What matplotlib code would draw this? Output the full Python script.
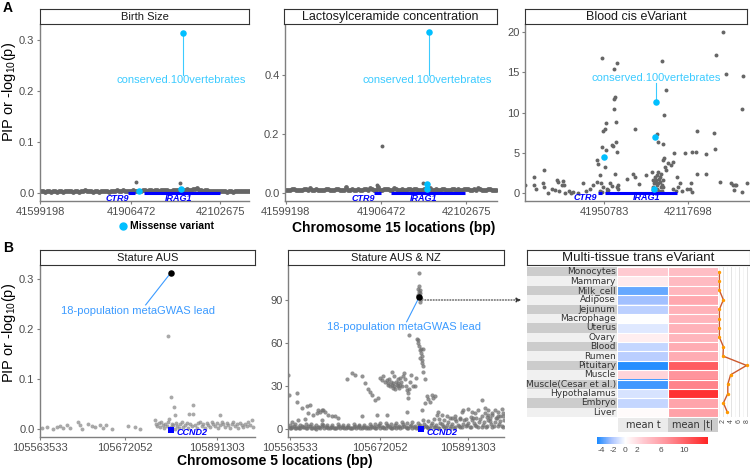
import matplotlib
matplotlib.use('Agg')
import matplotlib.pyplot as plt
import numpy as np
from matplotlib.colors import LinearSegmentedColormap
from matplotlib.patches import Rectangle

plt.rcParams['font.family'] = ['Liberation Sans', 'DejaVu Sans']
plt.rcParams['mathtext.fontset'] = 'custom'
plt.rcParams['mathtext.rm'] = 'Liberation Sans'
plt.rcParams['mathtext.it'] = 'Liberation Sans:italic'
plt.rcParams['axes.unicode_minus'] = False

# ---------------- DATA ----------------
# x values are variant positions along each locus plot (index units), y = PIP or -log10(p)
a_ticks_pos_1 = [120, 393, 660]
a_ticks_pos_2 = [107, 393, 648]
a_ticks_pos_3 = [313, 563]
a_tick_labels_12 = ['41599198', '41906472', '42102675']
a_tick_labels_3 = ['41950783', '42117698']
b_ticks_pos_1 = [120, 375, 650]
b_ticks_pos_2 = [105, 375, 640]
b_tick_labels = ['105563533', '105672052', '105891303']

# Birth Size
birth_band = [(122,0.003),(134,0.002),(146,0.004),(158,0.003),(170,0.002),(182,0.003),(194,0.004),(206,0.003),
              (218,0.002),(230,0.003),(242,0.004),(254,0.005),(266,0.003),(278,0.002),(290,0.003),(302,0.004),
              (314,0.003),(326,0.002),(338,0.003),(350,0.005),(362,0.004),(374,0.003),(386,0.004),(398,0.006),
              (410,0.003),(422,0.004),(434,0.005),(446,0.006),(458,0.004),(470,0.005),(482,0.006),(494,0.005),
              (506,0.004),(518,0.006),(530,0.005),(542,0.007),(554,0.006),(566,0.005),(578,0.008),(590,0.009),
              (602,0.006),(614,0.005),(626,0.004),(638,0.003),(650,0.004),(662,0.003),(674,0.004),(686,0.003),
              (698,0.002),(710,0.003),(722,0.004),(734,0.003),(746,0.004)]
birth_band2 = [(128,0.004),(140,0.003),(152,0.002),(164,0.004),(176,0.003),(188,0.002),(200,0.003),(212,0.004),
               (224,0.003),(236,0.002),(248,0.003),(260,0.004),(272,0.003),(284,0.004),(296,0.002),(308,0.003),
               (320,0.004),(332,0.003),(344,0.004),(356,0.003),(368,0.005),(380,0.004),(392,0.003),(404,0.004),
               (416,0.003),(428,0.005),(440,0.004),(452,0.005),(464,0.006),(476,0.004),(488,0.005),(500,0.006),
               (512,0.004),(524,0.005),(536,0.006),(548,0.005),(560,0.007),(572,0.006),(584,0.007),(596,0.006),
               (608,0.004),(620,0.005),(632,0.004),(644,0.003),(656,0.004),(668,0.003),(680,0.002),(692,0.004),
               (704,0.003),(716,0.004),(728,0.003),(740,0.004)]
birth_out = [(407,0.022),(540,0.019)]
birth_miss = [(418,0.004),(543,0.007),(548,0.314)]

# Lactosylceramide concentration
lacto_band = [(108,0.012),(120,0.010),(132,0.014),(144,0.011),(156,0.009),(168,0.013),(180,0.016),(192,0.012),
              (204,0.010),(216,0.011),(228,0.015),(240,0.012),(252,0.010),(264,0.013),(276,0.011),(288,0.020),
              (300,0.012),(312,0.010),(324,0.014),(336,0.012),(348,0.015),(360,0.018),(372,0.012),(384,0.022),
              (396,0.011),(408,0.013),(420,0.010),(432,0.016),(444,0.012),(456,0.014),(468,0.011),(480,0.013),
              (492,0.015),(504,0.012),(516,0.010),(528,0.013),(540,0.016),(552,0.012),(564,0.011),(576,0.014),
              (588,0.012),(600,0.010),(612,0.015),(624,0.013),(636,0.012),(648,0.014),(660,0.011),(672,0.013),
              (684,0.016),(696,0.012),(708,0.010),(720,0.013),(732,0.011)]
lacto_band2 = [(114,0.010),(126,0.013),(138,0.009),(150,0.012),(162,0.014),(174,0.010),(186,0.012),(198,0.015),
               (210,0.011),(222,0.009),(234,0.013),(246,0.011),(258,0.014),(270,0.010),(282,0.012),(294,0.011),
               (306,0.015),(318,0.012),(330,0.010),(342,0.013),(354,0.011),(366,0.014),(378,0.012),(390,0.010),
               (402,0.013),(414,0.015),(426,0.011),(438,0.013),(450,0.010),(462,0.012),(474,0.015),(486,0.011),
               (498,0.013),(510,0.010),(522,0.014),(534,0.012),(546,0.011),(558,0.014),(570,0.010),(582,0.013),
               (594,0.011),(606,0.014),(618,0.012),(630,0.010),(642,0.013),(654,0.015),(666,0.012),(678,0.010),
               (690,0.013),(702,0.011),(714,0.014),(726,0.012),(738,0.010)]
lacto_out = [(395,0.159),(520,0.034),(380,0.028)]
lacto_miss = [(530,0.015),(530,0.030),(537,0.547)]

# Blood cis eVariant
blood_pts = [(75,1.0),(103,2.0),(103,1.0),(108,0.5),(133,2.8),(128,1.2),(131,0.7),(145,0.0),(155,0.5),(165,0.4),
             (170,1.6),(175,1.4),(178,0.2),(185,1.0),(190,1.5),(192,1.0),(195,0.0),(207,0.2),(213,0.0),(218,0.1),
             (235,0.0),(250,1.2),(258,0.2),(270,0.5),(280,1.0),(290,1.4),(292,4.1),(295,3.6),(300,2.2),(302,1.2),
             (305,16.8),(305,5.7),(308,7.7),(315,8.0),(318,8.7),(315,3.2),(318,5.3),(320,0.5),(330,1.2),(335,0.9),
             (337,6.0),(340,5.8),(342,15.4),(345,11.9),(342,11.7),(343,10.5),(347,8.8),(350,16.1),(348,6.3),
             (350,5.1),(345,2.4),(350,0.7),(355,1.0),(355,0.5),(380,1.8),(398,2.4),(405,7.9),(405,2.0),(418,1.1),
             (437,2.2),(455,2.6),(460,1.6),(472,7.3),(475,6.4),(485,16.4),(490,6.1),(497,12.8),(492,9.7),(490,4.1),
             (493,4.3),(495,3.2),(498,2.8),(505,3.7),(512,3.5),(518,3.8),(521,5.0),(530,2.0),(540,1.2),(555,5.0),
             (572,1.3),(576,5.1),(588,5.1),(590,7.7),(590,2.4),(570,0.5),(575,0.1),(618,4.9),(618,2.4),(643,7.4),
             (645,5.5),(647,17.2),(660,1.4),(670,20.0),(678,14.8),(693,1.2),(700,1.0),(705,1.0),(708,1.0),(702,0.4),
             (725,10.5),(730,14.6),(727,0.1),(740,1.2),(460,0.7),(462,1.2),(465,1.4),(468,1.6),(470,0.95),(472,0.5),
             (475,1.2),(478,1.8),(480,1.4),(482,0.7),(485,1.0),(470,2.2),(475,2.6),(483,2.4),(488,1.6),(490,0.7),
             (300,0.3),(305,0.1),(310,0.7),(320,0.1),(325,0.4),(520,0.5),(527,0.3),(535,0.7),(545,0.3),(560,0.5),
             (466,0.2),(478,0.3),(486,0.2),(458,0.4),(480,2.0),(466,2.0)]
blood_miss = [(312,4.5),(466,7.0),(467,11.3),(463,0.5)]

# Stature AUS
aus_pts = [(505,0.186),(514,0.064),(522,0.044),(580,0.048),(525,0.028),(568,0.030),(660,0.029),
           (125,0.003),(140,0.005),(160,0.001),(170,0.005),(180,0.006),(188,0.003),(200,0.008),(210,0.003),
           (235,0.015),(240,0.008),(245,0.001),(265,0.011),(275,0.006),(285,0.005),(300,0.008),(310,0.003),
           (318,0.008),(335,0.000),(385,0.007),(405,0.005),(420,0.001),
           (465,0.018),(468,0.010),(472,0.006),(476,0.013),(480,0.005),(484,0.015),(488,0.008),(492,0.003),
           (496,0.011),(500,0.006),(504,0.015),(508,0.021),(512,0.005),(516,0.011),(520,0.008),(524,0.001),
           (528,0.013),(532,0.006),(536,0.003),(540,0.010),(545,0.015),(550,0.005),(555,0.008),(560,0.013),
           (565,0.003),(570,0.011),(575,0.006),(580,0.031),(585,0.008),(590,0.003),(595,0.013),(600,0.015),
           (605,0.006),(610,0.010),(615,0.003),(620,0.013),(625,0.008),(630,0.005),(635,0.015),(640,0.010),
           (645,0.006),(650,0.013),(655,0.003),(660,0.008),(665,0.015),(670,0.010),(675,0.005),(680,0.013),
           (685,0.008),(690,0.003),(695,0.011),(700,0.015),(705,0.006),(710,0.010),(715,0.003),(720,0.013),
           (725,0.008),(730,0.005),(735,0.011),(740,0.006),(745,0.015),(750,0.008),(755,0.018),(758,0.005)]
aus_lead = (512, 0.313)

# Stature AUS & NZ
nz_pts = [(493,109),(490,98),(492,96),(495,95),(489,93),(497,91),(488,94),(494,89),(491,100),(496,97),
          (462,66),(487,63),(490,62),(492,58),(495,55),(498,53),(500,51),(502,48),(497,56),(505,56),(490,60),
          (494,50),(500,46),(505,44),(510,35),(503,40),
          (375,36),(380,34),(385,37),(390,33),(395,34),(398,31),(400,32),(403,35),(405,30),(408,33),(410,31),
          (413,29),(415,32),(418,30),(420,28),(423,33),(425,31),(428,30),(430,32),(433,29),(435,31),(438,33),
          (440,30),(443,37),(446,39),(449,35),(452,30),(455,27),(458,25),(460,22),(462,28),(465,33),(468,38),
          (475,30),(480,30),(483,36),(412,40),(418,37),(428,35),(436,36),
          (275,35),(290,39),(300,38),(320,37),(330,32),(340,28),(345,26),(350,24),(360,20),(368,22),(395,10),(455,12),
          (100,38),(103,24),(125,25),(125,19),(140,15),(155,16),(165,17),(160,11),(175,10),(185,11),(190,13),
          (195,12),(200,13),(205,13),(210,12),(220,10),(230,9),(240,9),(250,8),(320,9),(365,10),(110,5),(130,6),
          (150,7),(200,6),
          (515,23),(520,21),(525,19),(530,24),(535,22),(540,23),(510,18),(500,13),(545,10),(550,12),(560,10),
          (575,9),(590,8),(600,9),(620,12),(625,13),(640,14),(650,12),(660,11),(670,13),(680,20),(690,11),
          (700,10),(710,11),(720,13),(730,12),(740,14),(745,11),(735,9),(655,8),(615,7),(705,8),(725,8),(700,13),(690,15),
          (100,1.2),(108,0.6),(116,2.0),(124,1.0),(132,0.5),(140,1.8),(148,1.1),(156,0.7),(164,2.2),(172,1.0),
          (180,0.6),(188,1.5),(196,0.9),(204,2.5),(212,1.2),(220,0.7),(228,1.6),(236,1.0),(244,0.5),(252,2.0),
          (260,1.1),(268,0.8),(276,1.7),(284,1.0),(292,0.6),(300,2.1),(308,1.2),(316,0.7),(324,1.5),(332,1.0),
          (340,0.6),(348,2.4),(356,1.3),(364,0.8),(372,2.6),(380,1.1),(388,0.7),(396,3.0),(404,1.4),(412,0.8),
          (420,2.7),(428,1.2),(436,0.6),(444,3.2),(452,1.5),(460,0.8),(468,2.9),(476,1.3),(484,0.7),(492,2.2),
          (500,1.0),(508,3.5),(516,1.4),(524,0.8),(532,4.0),(540,1.6),(548,0.9),(556,4.5),(564,1.8),(572,1.0),
          (580,5.0),(588,2.0),(596,1.0),(604,5.5),(612,2.2),(620,1.2),(628,6.0),(636,2.5),(644,1.3),(652,6.5),
          (660,2.8),(668,1.5),(676,7.0),(684,3.0),(692,1.6),(700,6.5),(708,3.2),(716,1.8),(724,7.5),(732,3.5),
          (740,2.0),(746,6.0),
          (104,3.0),(120,3.5),(136,2.8),(152,3.3),(168,3.6),(184,2.9),(200,3.4),(216,3.1),(232,2.7),(248,3.5),
          (264,3.0),(280,2.8),(296,3.3),(312,3.0),(328,2.6),(344,3.8),(360,3.2),(376,4.0),(392,4.5),(408,3.8),
          (424,4.2),(440,5.0),(456,4.4),(472,5.2),(488,4.0),(504,6.0),(520,5.5),(536,6.8),(552,7.0),(568,6.2),
          (584,7.5),(600,6.8),(616,8.0),(632,7.2),(648,8.5),(664,7.8),(680,9.0),(696,8.4),(712,9.5),(728,8.8),(744,9.2)]
nz_band = [(104,0.5),(112,1.4),(120,0.8),(128,1.6),(136,0.4),(144,1.2),(152,0.9),(160,1.8),(168,0.6),(176,1.5),
           (184,0.3),(192,1.1),(200,1.9),(208,0.7),(216,1.4),(224,0.5),(232,1.7),(240,0.9),(248,1.3),(256,0.4),
           (264,1.6),(272,0.8),(280,1.2),(288,0.5),(296,1.5),(304,0.9),(312,1.8),(320,0.4),(328,1.2),(336,1.6),
           (344,0.7),(352,1.4),(360,0.5),(368,1.9),(376,0.8),(384,1.6),(392,0.6),(400,2.0),(408,1.0),(416,1.7),
           (424,0.5),(432,2.2),(440,1.1),(448,1.8),(456,0.6),(464,2.4),(472,1.0),(480,1.9),(488,0.7),(496,2.6),
           (504,1.2),(512,2.2),(520,0.8),(528,3.0),(536,1.3),(544,2.5),(552,0.9),(560,3.2),(568,1.5),(576,2.8),
           (584,1.0),(592,3.6),(600,1.6),(608,3.0),(616,1.1),(624,3.8),(632,1.8),(640,4.2),(648,1.2),(656,4.5),
           (664,2.0),(672,4.8),(680,1.4),(688,5.0),(696,2.2),(704,5.5),(712,1.5),(720,5.2),(728,2.4),(736,5.8),(744,1.6)]
nz_lead = (492, 92)

# Multi-tissue trans eVariant
tissues = ['Monocytes', 'Mammary', 'Milk_cell', 'Adipose', 'Jejunum', 'Macrophage', 'Uterus', 'Ovary',
           'Blood', 'Rumen', 'Pituitary', 'Muscle', 'Muscle(Cesar et al.)', 'Hypothalamus', 'Embryo', 'Liver']
mean_t = [3.0, 1.2, -3.5, -2.5, -1.8, 0.0, -0.9, 1.0, -1.6, -1.9, -4.6, 2.4, -4.2, -1.1, -1.6, 0.2]
mean_abs_t = [4.0, 4.2, 4.5, 5.5, 4.8, 4.6, 4.8, 4.6, 5.2, 5.2, 10.5, 7.0, 8.0, 13.2, 5.8, 6.0]
trans_line = [1.1, 1.1, 1.1, 2.1, 1.1, 1.1, 1.1, 1.1, 2.1, 2.0, 7.9, 3.9, 3.2, 3.2, 2.1, 3.1]
heat_cols = ['mean t', 'mean |t|']
cbar_ticks = [-4, -2, 0, 2, 6, 10]

# ---------------- STYLE ----------------
W, H = 750, 469
fig = plt.figure(figsize=(7.5, 4.69), dpi=100)
GREY = '#666666'
CYAN = '#00BFFF'
CYAN_TXT = '#3CCBFF'
LEAD_TXT = '#3C9BFF'
GENE = '#0000FF'
TICK_C = '#4d4d4d'


def ax_px(x0, y0, x1, y1):
    return fig.add_axes([x0 / W, 1 - y1 / H, (x1 - x0) / W, (y1 - y0) / H])


def strip(x0, y0, x1, y1, text, size):
    a = ax_px(x0, y0, x1, y1)
    a.set_xticks([]); a.set_yticks([])
    for s in a.spines.values():
        s.set_color('#333333'); s.set_linewidth(0.8)
    a.text(0.5, 0.45, text, ha='center', va='center', fontsize=size, color='#1a1a1a', transform=a.transAxes)
    return a


def style(ax):
    for s in ['top', 'right']:
        ax.spines[s].set_visible(False)
    for s in ['left', 'bottom']:
        ax.spines[s].set_color('#7f7f7f'); ax.spines[s].set_linewidth(1.0)
    ax.tick_params(colors='#7f7f7f', labelcolor=TICK_C, labelsize=8, length=2.5, width=0.8, pad=1.5)


def xy(pts):
    return [p[0] for p in pts], [p[1] for p in pts]


def gene(ax, x0, x1, y, lw=2.2):
    ax.plot([x0, x1], [y, y], color=GENE, lw=lw, solid_capstyle='butt', zorder=4)


def glabel(ax, x, y, t, ha='center'):
    ax.text(x, y, t, color=GENE, fontsize=6.5, fontweight='bold', fontstyle='italic', ha=ha, va='center', zorder=5)

# ---------- Panel A1: Birth Size ----------
ax = ax_px(40, 24, 249, 201)
style(ax)
ax.set_xlim(120, 747); ax.set_ylim(-0.0157, 0.331)
for band in (birth_band, birth_band2):
    x, y = xy(band); ax.scatter(x, y, s=12, color=GREY, lw=0, zorder=2)
x, y = xy(birth_out); ax.scatter(x, y, s=8, color=GREY, lw=0, zorder=2)
gene(ax, 385, 405, -0.001); gene(ax, 433, 660, -0.001)
glabel(ax, 352, -0.0115, 'CTR9'); glabel(ax, 536, -0.0115, 'IRAG1')
x, y = xy(birth_miss); ax.scatter(x, y, s=22, color=CYAN, lw=0, zorder=6)
ax.plot([548, 548], [0.314, 0.232], color=CYAN_TXT, lw=0.8, zorder=5)
ax.text(545, 0.222, 'conserved.100vertebrates', color=CYAN_TXT, fontsize=8, ha='center', va='center')
ax.set_xticks(a_ticks_pos_1); ax.set_xticklabels(a_tick_labels_12)
ax.set_yticks([0, 0.1, 0.2, 0.3]); ax.set_yticklabels(['0.0', '0.1', '0.2', '0.3'])
strip(40, 9, 249, 24, 'Birth Size', 8)

# ---------- Panel A2: Lactosylceramide ----------
ax = ax_px(285, 24, 497, 201)
style(ax)
ax.set_xlim(105, 741); ax.set_ylim(-0.027, 0.575)
for band in (lacto_band, lacto_band2):
    x, y = xy(band); ax.scatter(x, y, s=12, color=GREY, lw=0, zorder=2)
x, y = xy(lacto_out); ax.scatter(x, y, s=8, color=GREY, lw=0, zorder=2)
gene(ax, 373, 392, -0.001); gene(ax, 422, 645, -0.001)
glabel(ax, 340, -0.018, 'CTR9'); glabel(ax, 520, -0.018, 'IRAG1')
x, y = xy(lacto_miss); ax.scatter(x, y, s=22, color=CYAN, lw=0, zorder=6)
ax.plot([530, 530], [0.015, 0.030], color=CYAN, lw=2, zorder=6)
ax.plot([537, 537], [0.547, 0.403], color=CYAN_TXT, lw=0.8, zorder=5)
ax.text(533, 0.385, 'conserved.100vertebrates', color=CYAN_TXT, fontsize=8, ha='center', va='center')
ax.set_xticks(a_ticks_pos_2); ax.set_xticklabels(a_tick_labels_12)
ax.set_yticks([0, 0.2, 0.4]); ax.set_yticklabels(['0.0', '0.2', '0.4'])
strip(284, 9, 497, 24, 'Lactosylceramide concentration', 9)

# ---------- Panel A3: Blood cis eVariant ----------
ax = ax_px(525, 24, 750, 201)
style(ax)
ax.set_xlim(75, 750); ax.set_ylim(-0.99, 21.0)
x, y = xy(blood_pts); ax.scatter(x, y, s=8, color=GREY, lw=0, zorder=2)
gene(ax, 295, 305, 0.0); gene(ax, 316, 530, 0.0)
glabel(ax, 255, -0.6, 'CTR9'); glabel(ax, 440, -0.6, 'IRAG1')
x, y = xy(blood_miss); ax.scatter(x, y, s=22, color=CYAN, lw=0, zorder=6)
ax.plot([467, 467], [11.3, 13.7], color=CYAN_TXT, lw=0.8, zorder=5)
ax.text(470, 14.3, 'conserved.100vertebrates', color=CYAN_TXT, fontsize=8, ha='center', va='center')
ax.set_xticks(a_ticks_pos_3); ax.set_xticklabels(a_tick_labels_3)
ax.set_yticks([0, 5, 10, 15, 20])
strip(525, 9, 747, 24, 'Blood cis eVariant', 9)

# ---------- Panel B1: Stature AUS ----------
ax = ax_px(40, 265, 255, 437)
style(ax)
ax.set_xlim(120, 765); ax.set_ylim(-0.016, 0.329)
x, y = xy(aus_pts); ax.scatter(x, y, s=8, color='#8c8c8c', alpha=0.75, lw=0, zorder=2)
ax.scatter([513], [-0.001], s=14, marker='s', color=GENE, lw=0, zorder=4)
glabel(ax, 530, -0.007, 'CCND2', ha='left')
ax.scatter([aus_lead[0]], [aus_lead[1]], s=22, color='black', lw=0, zorder=6)
ax.plot([437, aus_lead[0]], [0.249, aus_lead[1]], color=LEAD_TXT, lw=0.8, zorder=5)
ax.text(415, 0.236, '18-population metaGWAS lead', color=LEAD_TXT, fontsize=8, ha='center', va='center')
ax.set_xticks(b_ticks_pos_1); ax.set_xticklabels(b_tick_labels)
ax.set_yticks([0, 0.1, 0.2, 0.3]); ax.set_yticklabels(['0.0', '0.1', '0.2', '0.3'])
strip(40, 250, 255, 265, 'Stature AUS', 8)

# ---------- Panel B2: Stature AUS & NZ ----------
ax = ax_px(288, 265, 504, 437)
style(ax)
ax.set_xlim(99, 747); ax.set_ylim(-5.6, 114.7)
for pts in (nz_pts, nz_band):
    x, y = xy(pts); ax.scatter(x, y, s=9, color='#6f6f6f', alpha=0.75, lw=0, zorder=2)
ax.scatter([497], [0], s=14, marker='s', color=GENE, lw=0, zorder=4)
glabel(ax, 515, -2.6, 'CCND2', ha='left')
ax.scatter([nz_lead[0]], [nz_lead[1]], s=22, color='black', lw=0, zorder=6)
ax.plot([455, nz_lead[0]], [75, nz_lead[1]], color=LEAD_TXT, lw=0.8, zorder=5)
ax.text(448, 71.3, '18-population metaGWAS lead', color=LEAD_TXT, fontsize=8, ha='center', va='center')
ax.set_xticks(b_ticks_pos_2); ax.set_xticklabels(b_tick_labels)
ax.set_yticks([0, 30, 60, 90])
strip(288, 250, 504, 265, 'Stature AUS & NZ', 8)

# dotted arrow to heatmap
fig.add_artist(matplotlib.patches.FancyArrowPatch((422 / W, 1 - 300 / H), (524 / W, 1 - 300 / H),
               transform=fig.transFigure, arrowstyle='-|>', mutation_scale=7, linestyle=(0, (1, 1.5)),
               color='#333333', lw=0.8))

# ---------- Heatmap panel ----------
strip(527, 250, 750, 265, 'Multi-tissue trans eVariant', 9.5)
n = len(tissues)
row0, row1 = 267, 417
lab = ax_px(527, row0, 617, row1)
lab.set_xlim(0, 1); lab.set_ylim(n, 0); lab.axis('off')
for i, t in enumerate(tissues):
    lab.add_patch(Rectangle((0, i), 1, 1, color='#cccccc' if i % 2 == 0 else '#f0f0f0', lw=0))
    lab.text(0.985, i + 0.5, t, ha='right', va='center', fontsize=6.5, color='#333333', family='DejaVu Sans')

vmin, vmax = -4.8, 14.0
nodes = [(-4.8, '#1E8BFF'), (-2.4, '#A9C3FF'), (0.0, '#FFFFFF'), (3.0, '#FFCBD2'), (7.0, '#FF949C'), (14.0, '#FF2626')]
cmap = LinearSegmentedColormap.from_list('tcm', [((v - vmin) / (vmax - vmin), c) for v, c in nodes])
hm = ax_px(618, row0, 718, row1)
data = np.array([mean_t, mean_abs_t]).T
hm.imshow(data, cmap=cmap, vmin=vmin, vmax=vmax, aspect='auto', extent=(0, 2, n, 0), interpolation='nearest')
for i in range(n + 1):
    hm.axhline(i, color='white', lw=0.8)
hm.axvline(1, color='white', lw=0.8)
hm.set_xlim(0, 2); hm.set_ylim(n, 0); hm.axis('off')

# column labels
cl = ax_px(618, 418, 718, 432)
cl.set_xlim(0, 2); cl.set_ylim(0, 1); cl.axis('off')
cl.add_patch(Rectangle((0, 0), 1, 1, color='#ebebeb', lw=0))
cl.add_patch(Rectangle((1, 0), 1, 1, color='#cccccc', lw=0))
for j, c in enumerate(heat_cols):
    cl.text(j + 0.5, 0.5, c, ha='center', va='center', fontsize=7, color='#333333', family='DejaVu Sans')

# line side plot
lp = ax_px(718, row0, 750, row1)
lp.set_xlim(0.75, 8.75); lp.set_ylim(n, 0)
for v in [1, 3, 5, 7]:
    lp.axvline(v, color='#f2f2f2', lw=0.5, zorder=0)
for v in [2, 4, 6, 8]:
    lp.axvline(v, color='#e3e3e3', lw=0.7, zorder=0)
ypos = np.arange(n) + 0.5
lp.plot(trans_line, ypos, color='#CC5A2E', lw=1.0, zorder=2)
lp.scatter(trans_line, ypos, s=6, color='#FF9900', lw=0, zorder=3)
for s in lp.spines.values():
    s.set_visible(False)
lp.set_yticks([])
lp.set_xticks([2, 4, 6, 8])
lp.set_xticklabels(['2', '4', '6', '8'], rotation=90)
lp.tick_params(axis='x', length=0, labelsize=5, labelcolor='#4d4d4d', pad=1.5)

# colorbar
cb = ax_px(597, 437, 708, 444)
grad = np.linspace(vmin, vmax, 300).reshape(1, -1)
cb.imshow(grad, cmap=cmap, vmin=vmin, vmax=vmax, aspect='auto', extent=(vmin, vmax, 0, 1))
cb.set_xlim(vmin, vmax)
for s in cb.spines.values():
    s.set_visible(False)
cb.set_yticks([])
cb.set_xticks(cbar_ticks)
cb.tick_params(axis='x', length=0, labelsize=6, labelcolor='#4d4d4d', pad=2)

# ---------- figure texts ----------
fig.text(3 / W, 1 - 8 / H, 'A', fontsize=10, fontweight='bold', va='center', ha='left')
fig.text(3 / W, 1 - 248 / H, 'B', fontsize=10, fontweight='bold', va='center', ha='left')
fig.text(9 / W, 1 - 92 / H, 'PIP or -log$_{10}$(p)', rotation=90, fontsize=10.5, va='center', ha='center')
fig.text(9 / W, 1 - 333 / H, 'PIP or -log$_{10}$(p)', rotation=90, fontsize=10.5, va='center', ha='center')
fig.text(394 / W, 1 - 228 / H, 'Chromosome 15 locations (bp)', fontsize=10, fontweight='bold', va='center', ha='center')
fig.text(275 / W, 1 - 461 / H, 'Chromosome 5 locations (bp)', fontsize=10, fontweight='bold', va='center', ha='center')
fig.add_artist(matplotlib.lines.Line2D([123 / W], [1 - 226 / H], marker='o', markersize=5, color=CYAN, lw=0))
fig.text(130 / W, 1 - 226 / H, 'Missense variant', fontsize=7.5, fontweight='bold', va='center', ha='left')

fig.savefig('out.png', dpi=100)
